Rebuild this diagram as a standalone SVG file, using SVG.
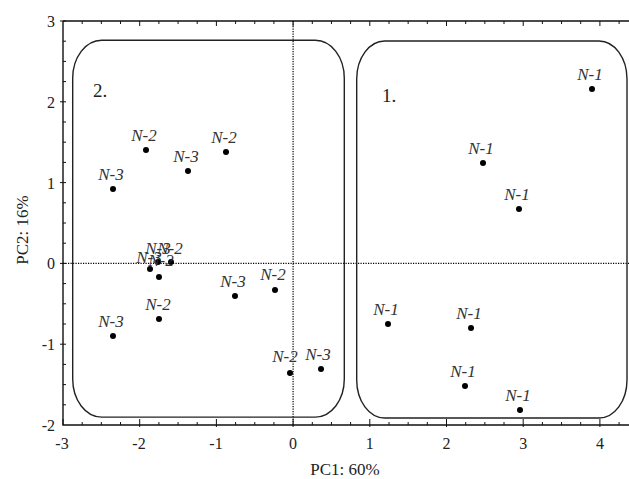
<svg xmlns="http://www.w3.org/2000/svg" width="629" height="479" viewBox="0 0 629 479" font-family="'Liberation Serif', serif">
<style>
.ax{fill:none;stroke:#111;stroke-width:1.4}
.tk{fill:none;stroke:#111;stroke-width:1}
.dot{fill:none;stroke:#000;stroke-width:1.2;stroke-dasharray:1.2 1.3}
.box{fill:none;stroke:#222;stroke-width:1.4}
text{font-family:'Liberation Serif',serif;fill:#222}
.tl{font-size:16px}
.lb{font-size:17px;font-style:italic;text-anchor:middle;fill:#333}
.pt{fill:#000}
.gl{font-size:19px}
</style>
<rect width="629" height="479" fill="#fff"/>
<g id="frame">
<path class="ax" d="M63 21 H629 M63 21 V425 H629"/>
<path class="tk" d="M63 425v-6M82.2 425v-3M101.35 425v-3M120.5 425v-3M139.7 427v-8M158.9 425v-3M178.05 425v-3M197.2 425v-3M216.4 427v-8M235.6 425v-3M254.75 425v-3M273.9 425v-3M293.1 427v-8M312.3 425v-3M331.45 425v-3M350.6 425v-3M369.8 427v-8M389 425v-3M408.15 425v-3M427.3 425v-3M446.5 427v-8M465.7 425v-3M484.85 425v-3M504 425v-3M523.2 427v-8M542.4 425v-3M561.55 425v-3M580.7 425v-3M599.9 427v-8M619.1 425v-3"/>
<path class="tk" d="M82.2 21v3M101.35 21v3M120.5 21v3M139.7 21v5M158.9 21v3M178.05 21v3M197.2 21v3M216.4 21v5M235.6 21v3M254.75 21v3M273.9 21v3M293.1 21v5M312.3 21v3M331.45 21v3M350.6 21v3M369.8 21v5M389 21v3M408.15 21v3M427.3 21v3M446.5 21v5M465.7 21v3M484.85 21v3M504 21v3M523.2 21v5M542.4 21v3M561.55 21v3M580.7 21v3M599.9 21v5M619.1 21v3"/>
<path class="tk" d="M60 21h6M63 41.2h3M63 61.4h3M63 81.6h3M60 101.8h6M63 122h3M63 142.2h3M63 162.4h3M60 182.6h6M63 202.8h3M63 223h3M63 243.2h3M60 263.4h6M63 283.6h3M63 303.8h3M63 324h3M60 344.2h6M63 364.4h3M63 384.6h3M63 404.8h3"/>
<path class="dot" d="M293.1 21V425M63 263.4H629"/>
</g>
<g id="tick-labels" class="tl">
<g text-anchor="middle">
<text x="62" y="449">-3</text>
<text x="139" y="449">-2</text>
<text x="216" y="449">-1</text>
<text x="293.1" y="449">0</text>
<text x="369.8" y="449">1</text>
<text x="446.5" y="449">2</text>
<text x="523.2" y="449">3</text>
<text x="599.9" y="449">4</text>
</g>
<g text-anchor="end">
<text x="55" y="27">3</text>
<text x="55" y="107.5">2</text>
<text x="55" y="188.5">1</text>
<text x="55" y="269">0</text>
<text x="55" y="350">-1</text>
<text x="55" y="431">-2</text>
</g>
</g>
<text id="x-title" font-size="17" text-anchor="middle" x="345" y="475">PC1: 60%</text>
<text id="y-title" font-size="17" text-anchor="middle" transform="translate(28 230) rotate(-90)">PC2: 16%</text>
<g id="group-2">
<rect class="box" x="72.7" y="40.3" width="271.6" height="376.8" rx="29" ry="38"/>
<text class="gl" x="93" y="97">2.</text>
</g>
<g id="group-1">
<rect class="box" x="356.7" y="41" width="270.3" height="377" rx="28" ry="38"/>
<text class="gl" x="382" y="102">1.</text>
</g>
<g id="points">
<g id="p1"><circle class="pt" cx="592" cy="89" r="3"/><text class="lb" x="590" y="80">N-1</text></g>
<g id="p2"><circle class="pt" cx="483" cy="163" r="3"/><text class="lb" x="481" y="154">N-1</text></g>
<g id="p3"><circle class="pt" cx="519" cy="209" r="3"/><text class="lb" x="517" y="200">N-1</text></g>
<g id="p4"><circle class="pt" cx="388" cy="324" r="3"/><text class="lb" x="386" y="315">N-1</text></g>
<g id="p5"><circle class="pt" cx="471" cy="328" r="3"/><text class="lb" x="469" y="319">N-1</text></g>
<g id="p6"><circle class="pt" cx="465" cy="386" r="3"/><text class="lb" x="463" y="377">N-1</text></g>
<g id="p7"><circle class="pt" cx="520" cy="410" r="3"/><text class="lb" x="518" y="401">N-1</text></g>
<g id="p8"><circle class="pt" cx="146" cy="150" r="3"/><text class="lb" x="144" y="141">N-2</text></g>
<g id="p9"><circle class="pt" cx="226" cy="152" r="3"/><text class="lb" x="224" y="143">N-2</text></g>
<g id="p10"><circle class="pt" cx="188" cy="171" r="3"/><text class="lb" x="186" y="162">N-3</text></g>
<g id="p11"><circle class="pt" cx="113" cy="189" r="3"/><text class="lb" x="111" y="180">N-3</text></g>
<g id="p12"><circle class="pt" cx="150" cy="269" r="3"/><text class="lb" x="149" y="263">N-3</text></g>
<g id="p13"><circle class="pt" cx="158" cy="262" r="3"/><text class="lb" x="158" y="254">N-3</text></g>
<g id="p14"><circle class="pt" cx="171" cy="262" r="3"/><text class="lb" x="170" y="254">N-2</text></g>
<g id="p15"><circle class="pt" cx="159" cy="277" r="3"/><text class="lb" x="161" y="266">N-2</text></g>
<g id="p16"><circle class="pt" cx="235" cy="296" r="3"/><text class="lb" x="233" y="287">N-3</text></g>
<g id="p17"><circle class="pt" cx="275" cy="290" r="3"/><text class="lb" x="273" y="280">N-2</text></g>
<g id="p18"><circle class="pt" cx="290" cy="373" r="3"/><text class="lb" x="285" y="362">N-2</text></g>
<g id="p19"><circle class="pt" cx="321" cy="369" r="3"/><text class="lb" x="318" y="360">N-3</text></g>
<g id="p20"><circle class="pt" cx="159" cy="319" r="3"/><text class="lb" x="158" y="310">N-2</text></g>
<g id="p21"><circle class="pt" cx="113" cy="336" r="3"/><text class="lb" x="111" y="327">N-3</text></g>
</g>
<g id="connectors"/>
</svg>
